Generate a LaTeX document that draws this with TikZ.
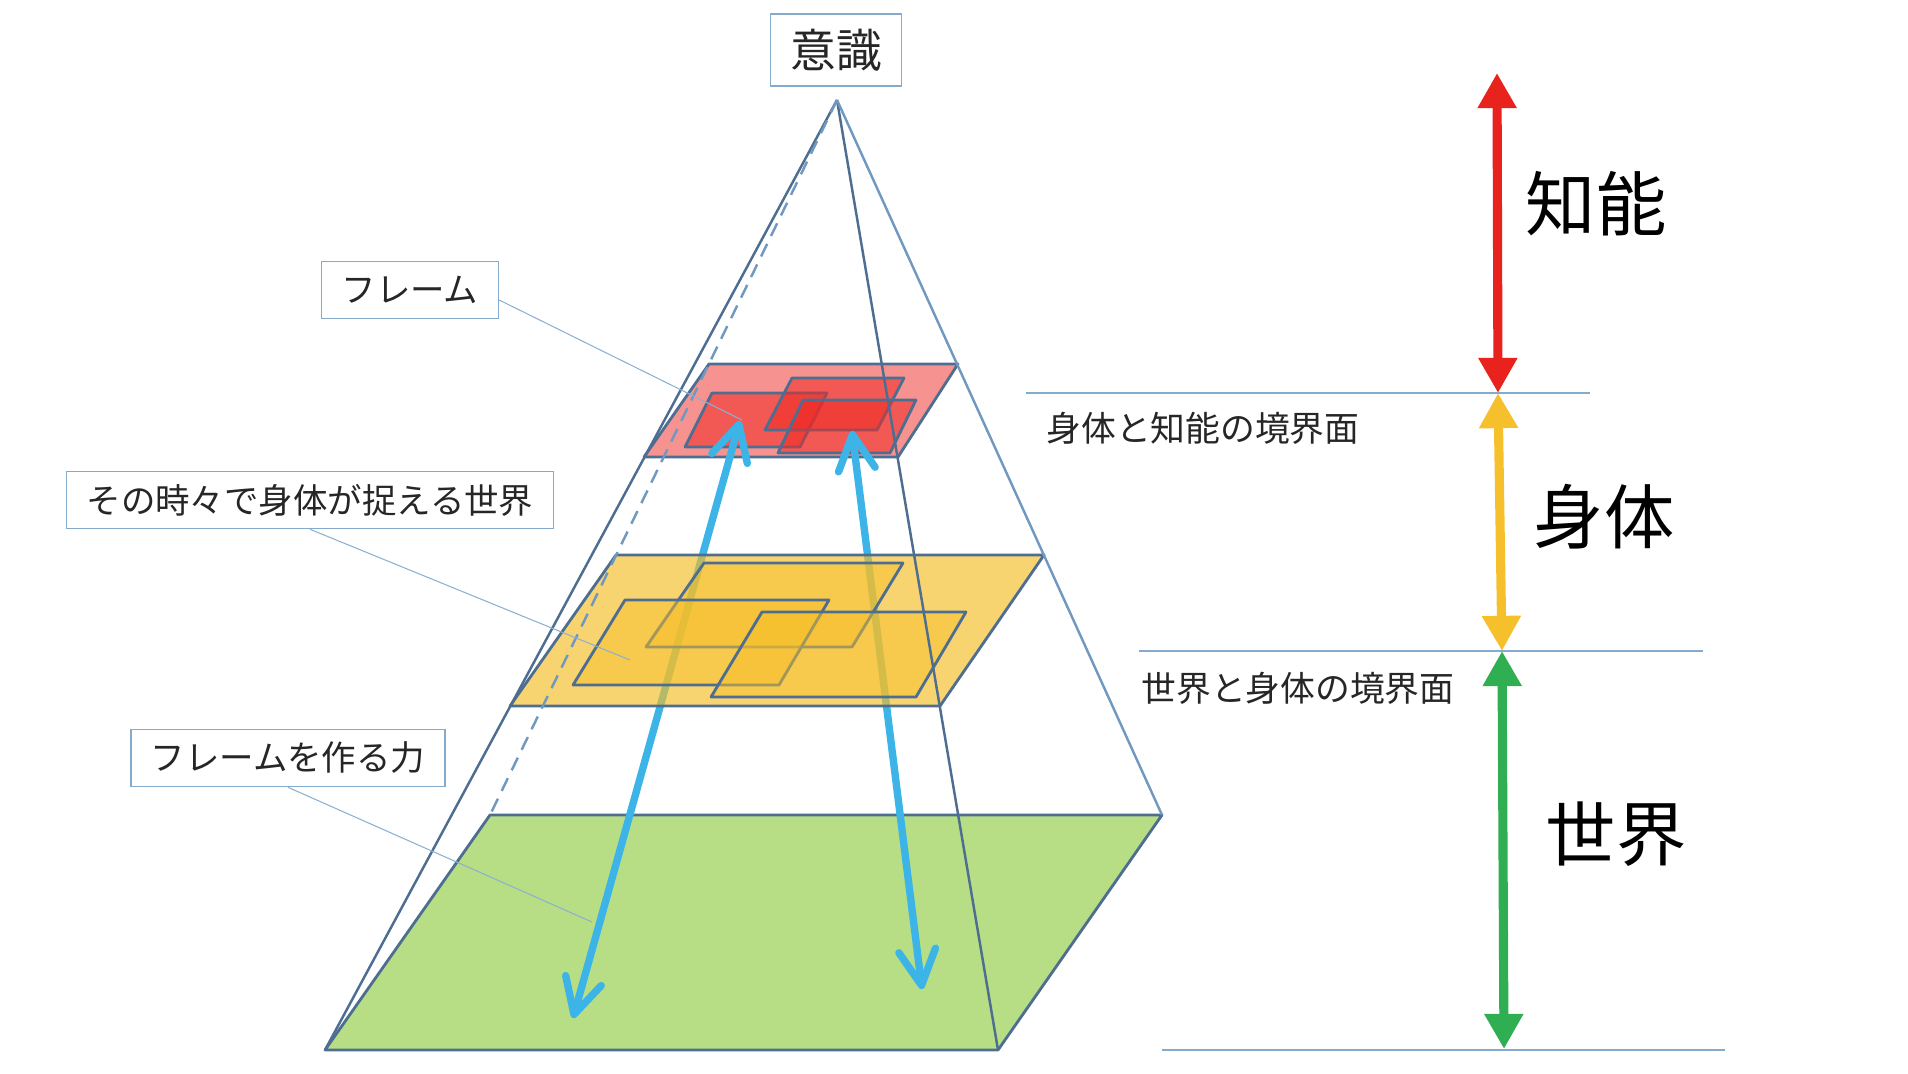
\documentclass[tikz,border=0pt]{standalone}
\usepackage{fontspec}
\setmainfont{Noto Sans CJK JP}
\usepackage{xcolor}
\usepackage{tikz}
\usetikzlibrary{arrows.meta,positioning}
\definecolor{edgedark}{RGB}{78,110,145}
\definecolor{edgelight}{RGB}{112,152,192}
\definecolor{boxline}{RGB}{132,170,206}
\definecolor{leadline}{RGB}{140,176,210}
\definecolor{planered}{RGB}{238,40,35}
\definecolor{planeyellow}{RGB}{245,190,40}
\definecolor{planegreen}{RGB}{183,222,132}
\definecolor{skyblue}{RGB}{60,180,232}
\definecolor{arrred}{RGB}{232,35,30}
\definecolor{arryellow}{RGB}{246,192,45}
\definecolor{arrgreen}{RGB}{48,174,82}
\tikzstyle{tag} = [draw=boxline, line width=0.45pt, fill=white, rectangle, minimum height=0.57cm, inner xsep=0.2cm, text=black!85, font=\fontsize{9.8}{12}\selectfont]
\tikzstyle{leader} = [draw=leadline, line width=0.3pt]
\tikzstyle{divider} = [draw=boxline, line width=0.3pt]
\tikzstyle{plane} = [draw=edgedark, line width=0.8pt, line join=round]
\tikzstyle{flow} = [skyblue, line width=2.1pt, {Straight Barb[round,length=10pt,width=10.5pt]}-{Straight Barb[round,length=10pt,width=10.5pt]}]
\tikzstyle{band} = [line width=2.6pt, {Triangle[length=10pt,width=10.5pt]}-{Triangle[length=10pt,width=10.5pt]}]
\begin{document}
\begin{tikzpicture}
			\useasboundingbox (0,0) rectangle (19.08,10.73);
			% apex
			\coordinate (D000) at (8.37,9.73);
			% base
			\coordinate (D011) at (3.25,0.23);
			\coordinate (D012) at (9.98,0.23);
			\coordinate (D013) at (11.62,2.58);
			\coordinate (D014) at (4.90,2.58);
			% body cut
			\coordinate (D021) at (5.10,3.67);
			\coordinate (D022) at (9.40,3.67);
			\coordinate (D023) at (10.44,5.18);
			\coordinate (D024) at (6.16,5.18);
			% intelligence cut
			\coordinate (D031) at (6.44,6.16);
			\coordinate (D032) at (8.98,6.16);
			\coordinate (D033) at (9.58,7.09);
			\coordinate (D034) at (7.09,7.09);
			% arrow ends
			\coordinate (F11) at (7.40,6.52);
			\coordinate (F12) at (5.73,0.55);
			\coordinate (F21) at (8.52,6.42);
			\coordinate (F22) at (9.22,0.84);
			% leader ends
			\coordinate (P1) at (7.42,6.53);
			\coordinate (P2) at (6.30,4.13);
			\coordinate (P3) at (5.92,1.51);
			% scale
			\coordinate (K1) at (14.97,10.00);
			\coordinate (K2) at (14.98,6.80);
			\coordinate (K3) at (15.02,4.22);
			\coordinate (K4) at (15.04,0.24);
			% world
			\filldraw[plane, fill=planegreen] (D011) -- (D012) -- (D013) -- (D014) -- cycle;
			% intelligence
			\filldraw[plane, fill=planered, fill opacity=0.5] (D031) -- (D032) -- (D033) -- (D034) -- cycle;
			\begin{scope}[every path/.style={plane, fill=planered, fill opacity=0.55}]
			\filldraw (6.85,6.26) -- (8.00,6.26) -- (8.27,6.80) -- (7.12,6.80) -- cycle;
			\filldraw (7.65,6.43) -- (8.77,6.43) -- (9.04,6.95) -- (7.92,6.95) -- cycle;
			\filldraw (7.78,6.20) -- (8.90,6.20) -- (9.16,6.73) -- (8.03,6.73) -- cycle;
			\end{scope}
			% frame forming
			\draw[flow] (F11) -- (F12);
			\draw[flow] (F21) -- (F22);
			% body
			\filldraw[plane, fill=planeyellow, fill opacity=0.66] (D021) -- (D022) -- (D023) -- (D024) -- cycle;
			\begin{scope}[every path/.style={plane, fill=planeyellow, fill opacity=0.5}]
			\filldraw (6.46,4.26) -- (8.52,4.26) -- (9.03,5.10) -- (7.04,5.10) -- cycle;
			\filldraw (5.73,3.88) -- (7.79,3.88) -- (8.29,4.73) -- (6.25,4.73) -- cycle;
			\filldraw (7.11,3.76) -- (9.16,3.76) -- (9.66,4.61) -- (7.62,4.61) -- cycle;
			\end{scope}
			% pyramid
			\draw[edgedark, line width=0.7pt] (D000) -- (D011);
			\draw[edgedark, line width=0.7pt] (D000) -- (D012);
			\draw[edgelight, line width=0.7pt] (D000) -- (D013);
			\draw[edgelight, line width=0.7pt, dash pattern=on 4pt off 2.5pt] (D000) -- (D014);
			% labels
			\node[tag, minimum width=1.26cm, minimum height=0.72cm, font=\fontsize{13}{15}\selectfont] (ishiki) at (8.36,10.23) {意識};
			\node[tag] (frame) at (4.10,7.83) {フレーム};
			\node[tag] (catch) at (3.10,5.73) {その時々で身体が捉える世界};
			\node[tag] (force) at (2.88,3.15) {フレームを作る力};
			\draw[leader] ([yshift=-1mm]frame.east) -- (P1);
			\draw[leader] (catch.south) -- (P2);
			\draw[leader] (force.south) -- (P3);
			% boundaries
			\draw[divider] (10.26,6.80) -- (15.90,6.80);
			\draw[divider] (11.39,4.22) -- (17.03,4.22);
			\draw[divider] (11.62,0.23) -- (17.25,0.23);
			\node[font=\fontsize{9.9}{12}\selectfont, text=black!85] (bound1) at (12.03,6.45) {身体と知能の境界面};
			\node[font=\fontsize{9.9}{12}\selectfont, text=black!85] (bound2) at (12.98,3.85) {世界と身体の境界面};
			% scale arrows
			\draw[band, arrred] (K1) -- (K2);
			\draw[band, arryellow] (K2) -- (K3);
			\draw[band, arrgreen] (K3) -- (K4);
			\node[font=\fontsize{20}{24}\selectfont] (chino) at (15.96,8.69) {知能};
			\node[font=\fontsize{20}{24}\selectfont] (shintai) at (16.04,5.56) {身体};
			\node[font=\fontsize{20}{24}\selectfont] (sekai) at (16.16,2.39) {世界};
\end{tikzpicture}
\end{document}
